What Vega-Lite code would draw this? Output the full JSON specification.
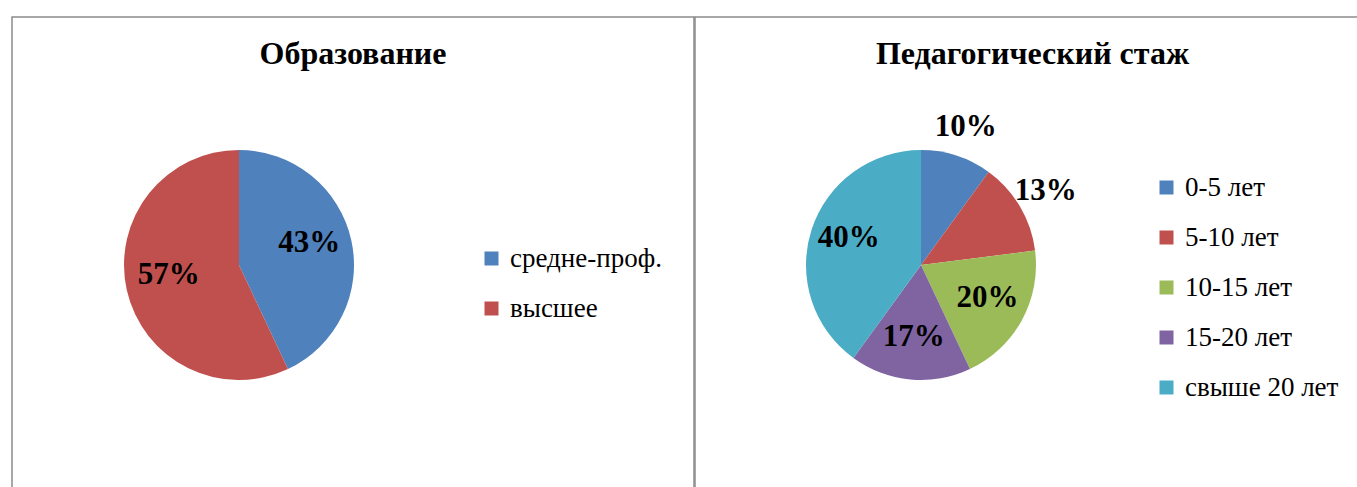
{
  "$schema": "https://vega.github.io/schema/vega-lite/v6.json",
  "padding": {"left": 11, "top": 16, "right": 0, "bottom": 0},
  "background": "white",
  "spacing": -3,
  "config": {
    "view": {"stroke": "#8c8c8c", "strokeWidth": 1.5},
    "font": "Liberation Serif",
    "title": {"font": "Liberation Serif", "fontSize": 32, "fontWeight": "bold", "color": "black", "anchor": "middle", "baseline": "alphabetic", "offset": -54},
    "legend": {"labelFont": "Liberation Serif", "labelFontSize": 27, "labelColor": "black", "symbolType": "square", "symbolSize": 196, "symbolStrokeWidth": 0, "rowPadding": 22, "labelOffset": 5, "orient": "none", "title": null, "labelLimit": 400}
  },
  "resolve": {"scale": {"color": "independent", "theta": "independent"}},
  "hconcat": [
    {
      "width": 682,
      "height": 480,
      "view": {"stroke": "#8c8c8c", "strokeWidth": 1.5},
      "title": {"text": "Образование"},
      "data": {"values": [
        {"category": "средне-проф.", "value": 43, "label": "43%", "order": 1},
        {"category": "высшее", "value": 57, "label": "57%", "order": 2}
      ]},
      "encoding": {
        "theta": {"field": "value", "type": "quantitative", "stack": true},
        "order": {"field": "order", "type": "quantitative"}
      },
      "layer": [
        {
          "mark": {"type": "arc", "outerRadius": 115, "x": 227, "y": 248},
          "encoding": {
            "color": {"field": "category", "type": "nominal",
              "scale": {"domain": ["средне-проф.", "высшее"], "range": ["#4F81BD", "#C0504D"]},
              "legend": {"legendX": 466, "legendY": 228}}
          }
        },
        {
          "mark": {"type": "text", "radius": 72, "x": 227, "y": 242, "fontSize": 31, "fontWeight": "bold", "font": "Liberation Serif", "color": "black"},
          "encoding": {"text": {"field": "label", "type": "nominal"}}
        }
      ]
    },
    {
      "width": 675,
      "height": 480,
      "view": {"stroke": "#8c8c8c", "strokeWidth": 1.5},
      "title": {"text": "Педагогический стаж"},
      "data": {"values": [
        {"category": "0-5 лет", "value": 10, "label": "10%", "order": 1},
        {"category": "5-10 лет", "value": 13, "label": "13%", "order": 2},
        {"category": "10-15 лет", "value": 20, "label": "20%", "order": 3},
        {"category": "15-20 лет", "value": 17, "label": "17%", "order": 4},
        {"category": "свыше 20 лет", "value": 40, "label": "40%", "order": 5}
      ]},
      "encoding": {
        "theta": {"field": "value", "type": "quantitative", "stack": true},
        "order": {"field": "order", "type": "quantitative"}
      },
      "layer": [
        {
          "mark": {"type": "arc", "outerRadius": 115, "x": 226, "y": 248},
          "encoding": {
            "color": {"field": "category", "type": "nominal",
              "scale": {"domain": ["0-5 лет", "5-10 лет", "10-15 лет", "15-20 лет", "свыше 20 лет"], "range": ["#4F81BD", "#C0504D", "#9BBB59", "#8064A2", "#4BACC6"]},
              "legend": {"legendX": 458, "legendY": 157}}
          }
        },
        {
          "mark": {"type": "text", "radius": 76, "x": 226, "y": 244, "fontSize": 31, "fontWeight": "bold", "font": "Liberation Serif", "color": "black"},
          "encoding": {
            "text": {"condition": {"test": "datum.value >= 15", "field": "label"}, "value": ""}
          }
        },
        {
          "mark": {"type": "text", "radius": 145, "x": 226, "y": 248, "fontSize": 31, "fontWeight": "bold", "font": "Liberation Serif", "color": "black"},
          "encoding": {
            "text": {"condition": {"test": "datum.value < 15", "field": "label"}, "value": ""}
          }
        }
      ]
    }
  ]
}
